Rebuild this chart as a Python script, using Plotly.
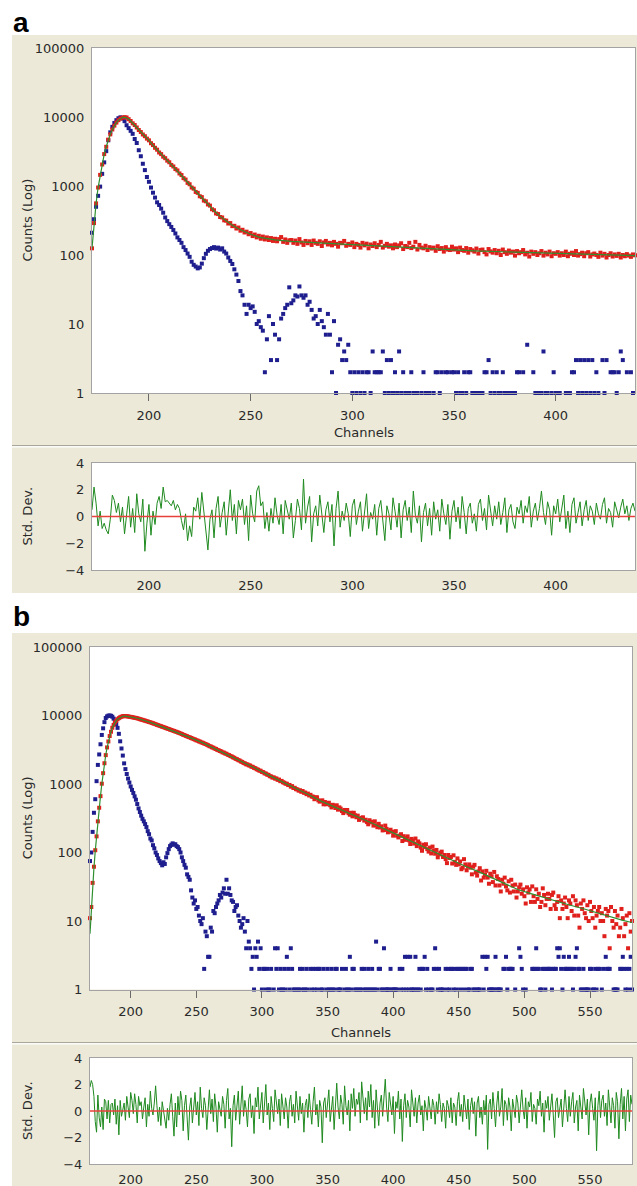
import plotly.graph_objects as go

W, H = 637, 1186
BEIGE = "#ECE9D8"
RED = "#E0201C"
BLUE = "#1E1E8E"
GREEN_FIT = "#2F8F2F"
GREEN_RES = "#1F8A1F"
ZERO = "#E8403A"
FONT = "DejaVu Sans"
TXT = "#2A2A2A"

# ---------------- panel a data ----------------
ch_a = list(range(172, 440))

red_a = [125, 290, 560, 950, 1450, 2050, 2900, 3700, 4700, 5600, 6600, 7500, 8300, 9000, 9500, 9800, 9950, 9850,
         9300, 8750, 8100, 7650, 7050, 6480, 6060, 5580, 5270, 4860,
         4590, 4170, 3920, 3580, 3360, 3060, 2900, 2660, 2530, 2330,
         2210, 2020, 1920, 1760, 1680, 1520, 1440, 1300, 1240, 1110,
         1060, 950, 915, 820, 795, 710, 690, 615, 600, 540,
         520, 460, 445, 400, 392, 355, 350, 318, 315, 286,
         290, 262, 265, 242, 250, 225, 232, 212, 218, 200,
         208, 188, 198, 180, 190, 172, 185, 168, 180, 165,
         176, 160, 172, 158, 170, 182, 155, 168, 150, 163,
         165, 150, 162, 145, 170, 152, 140, 160, 148, 158,
         140, 162, 150, 145, 158, 135, 152, 160, 142, 150,
         138, 155, 145, 132, 150, 148, 160, 136, 145, 140,
         152, 130, 145, 140, 128, 150, 138, 146, 125, 142,
         135, 148, 130, 140, 155, 128, 136, 145, 132, 138,
         125, 142, 130, 138, 148, 122, 135, 130, 150, 126,
         132, 155, 120, 140, 128, 125, 136, 118, 130, 124,
         128, 115, 134, 122, 126, 112, 130, 120, 118, 132,
         120, 125, 110, 128, 118, 115, 126, 108, 122, 117,
         112, 124, 105, 118, 120, 110, 102, 122, 113, 108,
         118, 106, 115, 100, 120, 110, 104, 116, 108, 112,
         98, 114, 106, 110, 118, 102, 108, 95, 112, 104,
         110, 100, 106, 114, 98, 108, 102, 112, 96, 106,
         104, 110, 98, 106, 100, 112, 96, 104, 108, 100,
         114, 98, 103, 108, 96, 106, 110, 95, 102, 105,
         100, 94, 108, 98, 104, 92, 100, 106, 95, 102,
         97, 104, 92, 100, 96, 103, 98, 94, 102, 99]

blue_a = [210, 330, 500, 720, 980, 1500, 2200, 3200, 4600, 6000,
          7200, 8200, 9000, 9600, 9900, 9500, 8700, 7600, 6900, 6300,
          5700, 4800, 4200, 3300, 2700, 2100, 1700, 1350, 1150, 950,
          800, 680, 580, 530, 470, 410, 350, 310, 280, 255,
          230, 205, 180, 165, 150, 130, 118, 105, 94, 80,
          72, 68, 64, 66, 75, 90, 104, 115, 122, 126,
          130, 124, 128, 120, 125, 112, 105, 92, 82, 74,
          62, 52, 42, 30, 26, 19, 14, 19, 17, 18,
          15, 10, 11, 9, 8, 2, 6, 13, 3, 10,
          7, 3, 6, 12, 14, 17, 19, 34, 20, 22,
          26, 25, 35, 26, 24, 26, 19, 21, 16, 12,
          13, 10, 16, 11, 9, 7, 14, 7, 2, 11,
          1, 5, 6, 3, 4, 3, 5, 2,
          1, 2, 1, 2, 1, 2, 1, 2, 2, 1,
          4, 2, 2, 2, 2, 4, 1, 3, 1, 3,
          1, 2, 1, 4, 1, 2, 1, 1, 1, 2,
          1, 1, 1, 0, 1, 2, 1, 1, 1, 0,
          1, 2, 2, 1, 2, 0, 2, 2, 0, 2,
          2, 1, 2, 1, 1, 2, 1, 2, 2, 1,
          1, 1, 1, 1, 1, 2, 2, 3, 1, 2,
          1, 2, 1, 1, 2, 1, 1, 1, 1, 1,
          1, 2, 2, 0, 2, 0, 5, 0, 0, 2,
          1, 1, 1, 1, 4, 1, 1, 0, 1, 2,
          1, 1, 1, 0, 0, 1, 1, 1, 2, 2,
          3, 1, 3, 1, 3, 1, 3, 1, 3, 1,
          2, 1, 0, 3, 1, 3, 0, 2, 2, 2,
          1, 2, 4, 3, 0, 2, 0, 2, 1, 0]

fit_a_ch = [172, 173, 174, 175, 176, 177, 178, 179, 180, 181, 182, 183, 184, 185, 186, 187, 188,
            190, 192, 194, 196, 198, 200, 202, 205, 208, 211, 214, 217, 220, 223, 226, 229, 232,
            235, 238, 241, 244, 247, 250, 254, 258, 262, 270, 280, 300, 320, 340, 360, 380, 400,
            420, 439]
fit_a = [125, 290, 560, 950, 1450, 2050, 2900, 3700, 4700, 5600, 6600, 7500, 8300, 9000, 9500, 9800, 9950,
         9333, 8128, 7079, 6026, 5248, 4571, 3890, 3090, 2512, 2042, 1660, 1318, 1047, 832, 676, 550, 437,
         363, 309, 269, 240, 219, 200, 182, 172, 166, 158, 151, 141, 132, 123, 115, 110, 105,
         100, 98]

res_a = [0.5, 2.2, 1.0, -0.7, 0.4, -0.9, -0.5, -1.0, -1.3, -0.2,
         1.6, 1.2, 0.3, 1.0, -0.4, 0.7, -1.3, 0.3, 1.5, -0.8,
         0.6, -1.2, 1.7, 0.2, -0.4, 1.3, -2.6, -0.5, 0.9, -1.4,
         0.4, -0.6, 1.0, 1.5, 0.6, 2.2, 1.1, 1.2, 1.0, 0.8,
         1.2, 0.5, 0.9, 0.6, -0.3, -1.0, 0.2, -1.8, -0.7, -1.5,
         0.7, 0.4, 1.4, -0.2, 1.8, 0.4, -0.6, -2.5, -0.2, 0.5,
         -1.6, 0.6, 1.5, -0.8, 0.3, 1.1, -1.4, 0.4, 2.0, -0.3,
         0.9, -1.3, 1.2, 0.5, 1.3, -0.6, 0.8, -1.8, 1.6, 0.2,
         -0.4, 1.9, 2.3, 0.8, 1.1, -0.9, 0.3, -1.1, 0.6, -0.5,
         1.4, 0.1, -0.6, 0.9, -1.3, 1.2, 0.5, -0.2, 1.0, -1.6,
         -0.3, 1.3, 0.6, -1.0, 2.8, -0.5, 0.7, 1.5, -1.9, 0.2,
         0.8, -0.7, 1.6, 0.3, -1.2, 0.5, 1.1, -0.4, 0.9, -2.2,
         0.6, 1.9, -0.8, 0.4, -0.3, 1.0, 0.2, -1.5, 0.8, 1.3,
         -0.6, 0.4, 1.1, -1.1, 0.5, 1.7, -0.9, 0.3, -0.2, 0.9,
         -1.4, 0.6, 1.2, -0.5, -1.8, 0.8, 0.2, -1.0, 1.4, 0.4,
         -0.8, 1.0, -1.6, 0.5, 1.2, -0.3, 0.7, -1.2, 1.9, 0.1,
         -0.5, 0.8, -1.9, 0.3, 1.0, -0.7, 0.6, -1.4, 1.1, -0.2,
         0.5, -1.1, 1.3, 0.2, -0.6, 0.9, -1.7, 0.4, 1.2, -0.4,
         0.7, -0.9, 1.5, 0.3, -1.3, 0.6, 1.0, -0.5, 0.2, -1.1,
         0.9, 1.3, -0.3, 0.6, -1.0, 1.6, 0.4, -0.7, 0.8, -0.2,
         1.1, -0.6, 0.3, 1.4, -1.2, 0.5, 0.9, -0.4, -0.9, 0.7,
         0.2, 1.2, -0.5, 0.8, 0.3, 1.5, -0.8, 0.4, 1.0, -0.3,
         0.6, 1.9, 0.3, -0.6, 1.1, 0.5, -1.4, 0.8, 0.2, 1.3,
         -0.4, 0.6, 1.6, -0.9, 0.4, -1.2, 0.9, 1.4, -0.5, 0.3,
         1.1, -0.7, 0.5, 1.2, -0.3, 0.8, 0.4, -0.6, 1.0, 0.2,
         -0.2, 0.9, 1.4, -0.5, 0.6, 0.3, -0.8, 1.1, 0.4, -0.1,
         0.7, 1.3, 0.2, 0.8, -0.3, 0.6, 1.0, 0.4]

# ---------------- panel b data ----------------
ch_b = list(range(169, 583))

red_b = [11, 16, 36, 62, 108, 172, 285, 450, 665, 1010,
         1440, 2010, 2640, 3420, 4180, 5010, 5790, 6620, 7280, 7920,
         8380, 8820, 9150, 9420, 9600, 9760, 9790, 9820, 9750, 9690,
         9600, 9540, 9450, 9370, 9270, 9210, 9110, 8980, 8850, 8730,
         8640, 8500, 8410, 8270, 8180, 8040, 7950, 7820, 7700, 7580,
         7460, 7310, 7220, 7080, 6990, 6860, 6770, 6650, 6550, 6430,
         6350, 6220, 6150, 6030, 5950, 5840, 5760, 5650, 5570, 5460,
         5360, 5230, 5170, 5040, 4980, 4860, 4800, 4700, 4620, 4520,
         4460, 4350, 4300, 4190, 4150, 4040, 3990, 3900, 3840, 3750,
         3680, 3570, 3530, 3430, 3390, 3290, 3250, 3150, 3110, 3030,
         2990, 2900, 2870, 2790, 2760, 2670, 2640, 2560, 2520, 2450,
         2410, 2330, 2300, 2230, 2200, 2130, 2100, 2030, 2000, 1940,
         1930, 1870, 1860, 1790, 1780, 1720, 1700, 1640, 1620, 1570,
         1560, 1500, 1490, 1430, 1420, 1370, 1360, 1300, 1290, 1240,
         1250, 1200, 1205, 1150, 1160, 1100, 1110, 1060, 1045, 1010,
         1010, 965, 970, 915, 930, 875, 880, 840, 835, 800,
         810, 770, 790, 745, 750, 710, 725, 680, 695, 655,
         653, 600, 636, 639, 578, 553, 564, 578, 505, 546,
         506, 518, 533, 490, 455, 497, 477, 446, 489, 422,
         456, 437, 403, 376, 418, 396, 417, 375, 356, 380,
         337, 380, 349, 327, 345, 299, 312, 321, 326, 292,
         301, 278, 258, 296, 276, 281, 247, 285, 250, 234,
         262, 232, 241, 210, 213, 247, 221, 197, 206, 215,
         201, 176, 200, 205, 176, 166, 175, 185, 147, 173,
         153, 162, 172, 151, 133, 158, 150, 135, 160, 124,
         145, 136, 118, 106, 130, 120, 132, 112, 103, 118,
         97, 122, 107, 96, 109, 85, 94, 99, 103, 86,
         92, 80, 70, 92, 83, 86, 69, 91, 73, 66,
         82, 67, 74, 57, 60, 80, 67, 55, 62, 67,
         60, 48, 62, 66, 51, 46, 53, 59, 39, 53,
         43, 47, 54, 43, 35, 49, 45, 37, 52, 33,
         45, 41, 33, 27, 40, 35, 43, 32, 28, 38,
         26, 40, 33, 27, 34, 22, 27, 31, 34, 25,
         29, 23, 18, 31, 26, 29, 19, 32, 23, 19,
         29, 21, 25, 16, 19, 30, 24, 17, 21, 25,
         21, 15, 24, 26, 17, 15, 19, 23, 11, 20,
         15, 18, 22, 16, 11, 20, 18, 14, 23, 12,
         20, 17, 12, 8, 18, 15, 20, 13, 11, 17,
         10, 19, 14, 11, 16, 8, 12, 14, 16, 10,
         13, 10, 6, 15, 12, 14, 4, 16, 10, 8,
         14, 9, 12, 6, 8, 15, 11, 6, 9, 12,
         4, 13, 7, 10]

blue_b = [75, 100, 200, 380, 600, 1100, 1900, 2700, 3800, 5200,
          6500, 8000, 9200, 9700, 9950, 10000, 9900, 9600, 9000, 8200,
          7500, 6600, 5400, 4200, 3300, 2600, 2000, 1650, 1400, 1200,
          1050, 920, 820, 740, 660, 590, 510, 440, 390, 345,
          310, 285, 260, 235, 205, 185, 160, 150, 128, 115,
          100, 92, 82, 75, 70, 65, 72, 68, 85, 98,
          112, 124, 130, 136, 130, 132, 124, 120, 112, 100,
          85, 75, 66, 60, 48, 44, 40, 28, 22, 18,
          20, 15, 16, 12, 10, 9, 11, 2, 7, 6,
          3, 3, 8, 7, 14, 13, 16, 18, 20, 24,
          22, 26, 30, 25, 40, 25, 30, 24, 20, 19,
          14, 16, 17, 12, 10, 8, 9, 11, 7, 4,
          10, 5, 4, 2, 3, 1, 4, 3, 5, 2,
          4,
          1, 2, 2, 1, 2, 1, 1, 2, 0, 1,
          4, 2, 4, 1, 2, 1, 1, 2, 1, 3,
          2, 1, 4, 2, 1, 1, 0, 1, 1, 2,
          1, 2, 1, 1, 2, 1, 0, 2, 1, 2,
          1, 2, 1, 2, 2, 1, 1, 2, 0, 1,
          2, 1, 1, 2, 1, 1, 2, 2, 1, 1,
          1, 2, 0, 1, 2, 1, 1, 3, 1, 2,
          2, 1, 1, 0, 1, 1, 2, 1, 2, 1,
          1, 2, 1, 1, 2, 1, 1, 5, 1, 2,
          2, 1, 1, 4, 1, 1, 1, 1, 2, 1,
          1, 1, 1, 1, 0, 2, 1, 2, 1, 3,
          1, 3, 1, 3, 1, 1, 1, 3, 1, 1,
          2, 1, 2, 2, 3, 1, 2, 1, 0, 1,
          1, 2, 4, 2, 1, 2, 1, 1, 1, 0,
          2, 1, 2, 1, 2, 2, 1, 2, 1, 2,
          2, 1, 2, 2, 1, 2, 2, 1, 1, 2,
          2, 1, 1, 0, 1, 1, 1, 0, 3, 1,
          3, 2, 3, 1, 1, 1, 1, 1, 3, 1,
          1, 1, 1, 0, 2, 2, 3, 1, 2, 2,
          2, 2, 0, 1, 0, 0, 4, 3, 2, 1,
          0, 1, 0, 0, 0, 0, 2, 2, 2, 4,
          2, 2, 1, 1, 2, 2, 1, 2, 2, 2,
          2, 1, 2, 2, 2, 4, 3, 4, 2, 1,
          3, 2, 2, 2, 3, 2, 2, 1, 2, 3,
          4, 2, 2, 1, 1, 2, 1, 1, 1, 1,
          2, 2, 1, 1, 2, 1, 2, 2, 0, 1,
          2, 0, 3, 2, 2, 2, 0, 0, 1, 1,
          1, 1, 0, 2, 2, 3, 2, 1, 2, 1,
          2, 3, 1]

fit_b_ch = [169, 170, 171, 172, 173, 174, 175, 176, 177, 178, 179, 180, 181, 182, 183, 184, 185, 186,
            187, 188, 189, 190, 192, 194, 196, 198, 205, 215, 225, 235, 245, 255, 265, 275, 285, 295,
            305, 315, 325, 335, 345, 355, 365, 375, 385, 395, 405, 415, 425, 435, 445, 455, 465, 475,
            485, 495, 505, 515, 525, 535, 545, 555, 565, 575, 582]
fit_b = [6.5, 15, 30, 60, 105, 175, 280, 440, 670, 1000, 1450, 2000, 2650, 3400, 4200, 5000, 5800, 6600,
         7300, 7900, 8400, 8800, 9400, 9750, 9800, 9700, 9120, 7943, 6761, 5754, 4786, 3981, 3236, 2630,
         2089, 1698, 1349, 1096, 871, 708, 562, 468, 389, 316, 263, 214, 174, 145, 117, 95.5, 77.6, 63.1,
         52.5, 42.7, 35.5, 28.8, 25.1, 21.9, 19.5, 17.0, 15.1, 13.2, 11.7, 10.2, 9.5]

res_b = [1.8, 2.3, 2.0, 1.1, -0.8, -1.6, 1.2, -0.5, -1.2, 0.3,
         -1.4, 0.9, 0.7, -0.6, 0.8, -0.9, 0.5, 0.6, -0.3, 0.9,
         -1.0, 0.4, -1.8, 0.8, -0.4, 0.2, 0.6, -0.7, 1.1, 0.3,
         -0.5, 1.4, 0.8, -0.2, 1.3, 0.5, -0.9, 1.1, 0.4, 0.7,
         -0.6, 0.3, 1.0, -1.2, 0.5, -0.4, 1.5, 0.2, -0.3, 0.6,
         1.9, 0.4, -0.8, 0.3, -1.1, 0.7, 0.1, -0.5, -1.3, 0.2,
         -0.7, 0.5, 1.3, -0.4, -1.9, 0.6, -1.2, 1.1, -0.3, 1.5,
         0.8, -1.5, 0.4, 1.2, -0.6, -2.2, 0.3, 1.0, -0.9, 0.5,
         1.4, -0.3, 0.7, -1.1, 1.8, 0.2, -0.5, 1.0, 0.4, -1.4,
         0.6, 1.6, -0.2, 0.9, -0.8, 1.3, 0.3, -1.6, 0.7, 0.2,
         -0.4, 1.1, 0.5, -1.3, 0.8, 1.7, -0.6, 0.2, -2.7, 0.4,
         1.2, -0.7, 0.3, 1.5, -1.0, 0.6, 1.9, -0.4, 0.8, 0.1,
         -1.2, 0.9, 1.3, -0.5, 0.4, -1.7, 1.0, 0.3, 1.8, -0.6,
         0.5, 1.4, -0.9, 0.7, 2.0, -0.3, 0.6, -1.4, 1.1, 0.2,
         -0.8, 1.6, 0.4, -0.2, 0.9, -1.1, 1.3, 0.5, -0.6, 1.0,
         0.3, -1.3, 0.7, 1.2, -0.4, 0.5, -0.9, 1.5, 0.2, -0.7,
         1.1, -0.2, 0.6, -1.6, 0.4, 0.9, -0.5, 1.3, 0.1, -1.0,
         0.7, 1.8, -0.3, 0.5, -1.2, 0.8, 0.3, -2.4, 0.6, 1.0,
         -0.5, 0.4, 1.6, -0.8, 0.2, 1.1, -1.4, 0.7, 2.1, 0.3,
         -0.6, 1.2, 0.5, -1.0, 1.9, 0.4, -0.3, 0.8, -1.5, 1.3,
         0.2, 1.7, -0.4, 0.9, 0.5, 1.4, -0.9, 2.2, 0.6, -0.2,
         1.0, -0.7, 1.5, 0.3, 2.0, -0.5, 0.8, -1.3, 1.6, 0.4,
         -1.1, 0.6, 1.2, -0.4, 0.9, 2.4, 0.3, -0.8, 1.4, 0.5,
         -0.3, 1.1, -1.7, 0.7, 0.2, 1.5, -0.6, 0.9, -2.3, 0.4,
         1.3, -0.5, 0.8, 0.3, -1.2, 1.6, 0.5, -0.4, 1.0, -0.9,
         0.6, 1.2, -0.3, 0.4, -1.5, 0.8, 0.2, -0.7, 1.1, 0.3,
         -0.6, 0.9, 0.4, -1.0, 0.7, -0.2, 1.3, 0.5, -0.8, 0.6,
         0.2, -1.3, 0.8, 0.4, -0.5, 1.0, -0.9, 0.6, 0.3, -1.1,
         0.7, 1.4, -0.4, 0.5, -0.8, 1.2, 0.1, -0.6, 0.9, -1.4,
         0.4, 1.0, -0.2, 0.7, -1.9, 0.6, 1.1, -0.5, 0.3, -1.0,
         0.8, -0.3, 1.2, -2.9, 0.5, 0.9, -0.6, 1.4, 0.2, -1.2,
         0.6, 1.5, -0.4, 0.3, 1.7, -1.1, 0.8, 0.5, -0.7, 1.0,
         0.3, -1.5, 0.9, 0.2, -0.5, 1.2, 0.6, -0.9, 0.4, 1.6,
         0.1, -0.6, 1.0, -1.3, 0.7, 0.3, 1.4, -0.8, 0.5, 0.2,
         -1.0, 0.9, 0.4, 1.5, -0.4, 0.6, -1.6, 0.8, 0.2, 1.1,
         -0.7, 0.5, 1.3, -0.3, -2.0, 0.7, 1.0, -0.5, 0.4, 0.9,
         -1.2, 0.6, 1.6, 0.2, -0.8, 1.1, -0.4, 0.7, 1.4, -0.9,
         0.3, 0.8, -1.5, 1.2, 0.4, -0.6, 1.7, 0.5, -0.3, 0.9,
         -1.8, 0.6, 1.3, 0.2, -0.7, 1.0, -3.0, 0.4, 1.5, -0.5,
         0.8, 1.2, -0.4, 0.6, -1.1, 1.6, 0.3, -0.9, 1.0, 0.4,
         -1.3, 1.4, 0.7, -2.1, 0.5, 1.7, -0.6, 1.1, -1.5, 0.9,
         1.6, -0.8, 1.2, 0.5]

log_ticks = [1, 10, 100, 1000, 10000, 100000]
log_text = ["1", "10", "100", "1000", "10000", "100000"]
ch_ticks_a = [200, 250, 300, 350, 400]
ch_ticks_b = [200, 250, 300, 350, 400, 450, 500, 550]
sd_ticks = [-4, -2, 0, 2, 4]


def fx(x):
    return x / W


def fy(y):
    return 1 - y / H


def pos(v):
    return [c if c > 0 else None for c in v]


fig = go.Figure()


def add_panel(xa, ya, xr, yr, ch, blue, red, fch, fit, res):
    n = len(blue)
    fig.add_trace(go.Scatter(x=ch[:n], y=pos(blue), mode="markers", xaxis=xa, yaxis=ya,
                             marker=dict(symbol="square", size=4, color=BLUE, line=dict(width=0)),
                             cliponaxis=False, showlegend=False, hoverinfo="skip"))
    n = len(red)
    fig.add_trace(go.Scatter(x=ch[:n], y=red, mode="markers", xaxis=xa, yaxis=ya,
                             marker=dict(symbol="square", size=4, color=RED, line=dict(width=0)),
                             cliponaxis=False, showlegend=False, hoverinfo="skip"))
    fig.add_trace(go.Scatter(x=fch, y=fit, mode="lines", xaxis=xa, yaxis=ya,
                             line=dict(color=GREEN_FIT, width=1.2), showlegend=False, hoverinfo="skip"))
    n = len(res)
    fig.add_trace(go.Scatter(x=ch[:n], y=res, mode="lines", xaxis=xr, yaxis=yr,
                             line=dict(color=GREEN_RES, width=1), showlegend=False, hoverinfo="skip"))


add_panel("x", "y", "x2", "y2", ch_a, blue_a, red_a, fit_a_ch, fit_a, res_a)
add_panel("x3", "y3", "x4", "y4", ch_b, blue_b, red_b, fit_b_ch, fit_b, res_b)

tf = dict(family=FONT, size=13, color=TXT)
base = dict(showgrid=False, zeroline=False, showline=True, mirror=True, linecolor="#A3A3A3",
            linewidth=1, tickfont=tf, fixedrange=True, automargin=False)

pa = (92, 635)
pb = (90, 632)
ya_main = (48, 393)
ya_res = (463, 570)
yb_main = (647, 989.5)
yb_res = (1058, 1164)

layout_axes = dict(
    xaxis=dict(domain=[fx(pa[0]), fx(pa[1])], range=[172, 439], anchor="y", tickmode="array",
               tickvals=ch_ticks_a, ticks="outside", ticklen=7, tickcolor="#6A6A6A",
               ticklabelstandoff=3, **base),
    yaxis=dict(domain=[fy(ya_main[1]), fy(ya_main[0])], type="log", range=[0, 5], anchor="x",
               tickmode="array", tickvals=log_ticks, ticktext=log_text, ticks="",
               ticklabelstandoff=4, **base),
    xaxis2=dict(domain=[fx(pa[0]), fx(pa[1])], range=[172, 439], anchor="y2", tickmode="array",
                tickvals=ch_ticks_a, ticks="", ticklabelstandoff=3, **base),
    yaxis2=dict(domain=[fy(ya_res[1]), fy(ya_res[0])], range=[-4, 4], anchor="x2", tickmode="array",
                tickvals=sd_ticks, ticks="", ticklabelstandoff=4, **base),
    xaxis3=dict(domain=[fx(pb[0]), fx(pb[1])], range=[169, 582], anchor="y3", tickmode="array",
                tickvals=ch_ticks_b, ticks="outside", ticklen=7, tickcolor="#6A6A6A",
                ticklabelstandoff=3, **base),
    yaxis3=dict(domain=[fy(yb_main[1]), fy(yb_main[0])], type="log", range=[0, 5], anchor="x3",
                tickmode="array", tickvals=log_ticks, ticktext=log_text, ticks="",
                ticklabelstandoff=4, **base),
    xaxis4=dict(domain=[fx(pb[0]), fx(pb[1])], range=[169, 582], anchor="y4", tickmode="array",
                tickvals=ch_ticks_b, ticks="", ticklabelstandoff=3, **base),
    yaxis4=dict(domain=[fy(yb_res[1]), fy(yb_res[0])], range=[-4, 4], anchor="x4", tickmode="array",
                tickvals=sd_ticks, ticks="", ticklabelstandoff=4, **base),
)

shapes = []


def rect(x0, y0, x1, y1, color):
    shapes.append(dict(type="rect", xref="paper", yref="paper", x0=fx(x0), x1=fx(x1),
                       y0=fy(y1), y1=fy(y0), fillcolor=color, line=dict(width=0), layer="below"))


# beige panels
rect(12, 35, 637, 445, BEIGE)
rect(12, 445, 637, 446.2, "#A9A79C")
rect(12, 446.2, 637, 447.5, "#FFFFFF")
rect(12, 447.5, 637, 593, BEIGE)
rect(12, 633, 637, 1042, BEIGE)
rect(12, 1042, 637, 1043.2, "#A9A79C")
rect(12, 1043.2, 637, 1044.5, "#FFFFFF")
rect(12, 1044.5, 637, 1186, BEIGE)
# white plot areas
rect(pa[0], ya_main[0], pa[1], ya_main[1], "#FFFFFF")
rect(pa[0], ya_res[0], pa[1], ya_res[1], "#FFFFFF")
rect(pb[0], yb_main[0], pb[1], yb_main[1], "#FFFFFF")
rect(pb[0], yb_res[0], pb[1], yb_res[1], "#FFFFFF")

# zero lines in residual plots
for xr, yr in (("x2", "y2"), ("x4", "y4")):
    shapes.append(dict(type="line", xref=xr + " domain", yref=yr, x0=0, x1=1, y0=0, y1=0,
                       line=dict(color=ZERO, width=1.5), layer="above"))

ann = []


def text(x, y, s, size=13, angle=0, bold=False, family=FONT, color=TXT, xanchor="center"):
    ann.append(dict(x=fx(x), y=fy(y), xref="paper", yref="paper", text=("<b>%s</b>" % s) if bold else s,
                    showarrow=False, textangle=angle, xanchor=xanchor, yanchor="middle",
                    font=dict(family=family, size=size, color=color)))


text(11, 23, "a", size=28, bold=True, family="Liberation Sans", color="#000000", xanchor="left")
text(11, 616, "b", size=28, bold=True, family="Liberation Sans", color="#000000", xanchor="left")
text(27, (ya_main[0] + ya_main[1]) / 2, "Counts (Log)", angle=-90)
text(27, (ya_res[0] + ya_res[1]) / 2, "Std. Dev.", angle=-90)
text(27, (yb_main[0] + yb_main[1]) / 2, "Counts (Log)", angle=-90)
text(27, (yb_res[0] + yb_res[1]) / 2, "Std. Dev.", angle=-90)
text((pa[0] + pa[1]) / 2, 433, "Channels")
text((pb[0] + pb[1]) / 2, 1032, "Channels")

fig.update_layout(width=W, height=H, autosize=False, margin=dict(l=0, r=0, t=0, b=0, pad=0),
                  paper_bgcolor="#FFFFFF", plot_bgcolor="#FFFFFF", showlegend=False,
                  shapes=shapes, annotations=ann, **layout_axes)

fig.write_html("out.html", config={"displayModeBar": False},
               post_script="document.body.style.margin='0px';document.body.style.overflow='hidden';")
